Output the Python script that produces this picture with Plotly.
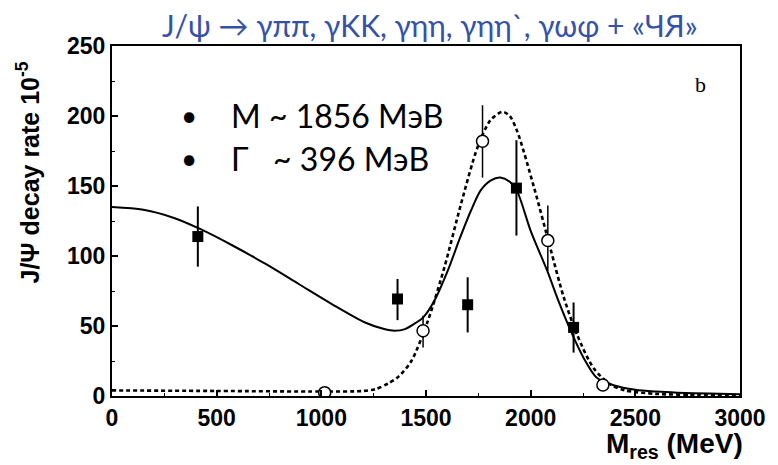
import plotly.graph_objects as go

# Filled squares (data set 1)
sq_x = [410, 1364, 1699, 1932, 2205]
sq_y = [113.9, 69.3, 65.2, 148.5, 49.0]
sq_err_plus = [21.5, 14.3, 19.6, 34.2, 17.8]
sq_err_minus = [21.5, 15.1, 19.8, 33.9, 18.0]

# Open circles (data set 2)
ci_x = [1016, 1486, 1770, 2082, 2345]
ci_y = [2.4, 46.6, 182.0, 111.0, 7.9]
ci_err_plus = [0, 10.7, 25.7, 25.0, 0]
ci_err_minus = [0, 12.0, 26.0, 21.5, 0]

# Solid fit curve
fit1_x = [0, 150, 300, 418, 576, 734, 892, 1050, 1209, 1300, 1350, 1400, 1454, 1486,
          1540, 1604, 1660, 1715, 1762, 1810, 1855, 1900, 1936, 2000, 2079, 2135,
          2190, 2250, 2316, 2400, 2500, 2600, 2700, 2850, 3000]
fit1_y = [135, 133, 127, 119.5, 107.5, 94.3, 80, 65.7, 52.5, 47.8, 46.6, 47.8, 52.5, 56,
          68, 89.5, 112, 132.5, 147, 154, 156, 153, 146, 118, 89.5, 67,
          47, 28, 13, 7.5, 4.5, 3.2, 2.4, 1.7, 1.2]

# Dotted fit curve
fit2_x = [0, 500, 1000, 1200, 1260, 1320, 1370, 1430, 1509, 1588, 1667, 1747, 1808,
          1865, 1900, 1936, 2016, 2095, 2157, 2221, 2300, 2379, 2450, 2600, 2800, 3000]
fit2_y = [4, 3.6, 3.2, 3.6, 5, 9, 14, 25, 53.7, 92, 137, 178, 197,
          203, 200, 189, 149, 105, 71, 44, 20, 8.4, 4, 1.5, 0.8, 0.5]

x_ticks = [0, 500, 1000, 1500, 2000, 2500, 3000]
y_ticks = [0, 50, 100, 150, 200, 250]

title_text = "J/ψ → γππ, γKK, γηη, γηη`, γωφ + «ЧЯ»"
y_title = "J/Ψ decay rate 10<sup>-5</sup>"
x_title = "M<sub>res</sub> (MeV)"
legend_lines = ["M ~ 1856 МэВ", "Γ\u00a0\u00a0\u00a0~ 396 МэВ"]

fig = go.Figure()
fig.add_trace(go.Scatter(x=fit1_x, y=fit1_y, mode="lines", line=dict(color="black", width=2, shape="spline", smoothing=0.8),
                         hoverinfo="skip", showlegend=False))
fig.add_trace(go.Scatter(x=fit2_x, y=fit2_y, mode="lines", line=dict(color="black", width=2.6, dash="4px,3px", shape="spline", smoothing=0.8),
                         hoverinfo="skip", showlegend=False))
fig.add_trace(go.Scatter(x=sq_x, y=sq_y, mode="markers",
                         marker=dict(symbol="square", size=11, color="black"),
                         error_y=dict(type="data", array=sq_err_plus, arrayminus=sq_err_minus, color="black", thickness=2, width=0),
                         showlegend=False))
fig.add_trace(go.Scatter(x=ci_x, y=ci_y, mode="markers",
                         marker=dict(symbol="circle", size=12, color="white", line=dict(color="black", width=1.5)),
                         error_y=dict(type="data", array=ci_err_plus, arrayminus=ci_err_minus, color="black", thickness=1.5, width=0),
                         showlegend=False))

axis_font = dict(family="Liberation Sans", size=23, color="black", weight="bold")
fig.update_xaxes(range=[0, 3000], tickvals=x_ticks, ticktext=[str(v) for v in x_ticks],
                 ticks="inside", ticklen=6, tickwidth=1.5, tickcolor="black",
                 minor=dict(dtick=250, ticks="inside", ticklen=3, tickcolor="black", tickwidth=1),
                 showline=True, linecolor="black", linewidth=2, mirror=True,
                 showgrid=False, zeroline=False, tickfont=axis_font)
fig.update_yaxes(range=[0, 250], tickvals=y_ticks, ticktext=[str(v) for v in y_ticks],
                 ticks="inside", ticklen=6, tickwidth=1.5, tickcolor="black",
                 minor=dict(dtick=25, ticks="inside", ticklen=3, tickcolor="black", tickwidth=1),
                 showline=True, linecolor="black", linewidth=2, mirror=True,
                 showgrid=False, zeroline=False, tickfont=axis_font)

annotations = [
    dict(text=title_text, x=0.507, y=1.06, xref="paper", yref="paper", showarrow=False,
         font=dict(family="Lato", size=30, color="#3552a8"), xanchor="center", yanchor="middle"),
    dict(text=y_title, x=-0.133, y=0.64, xref="paper", yref="paper", showarrow=False, textangle=-90,
         font=dict(family="Liberation Sans", size=25, color="black", weight="bold"), xanchor="center", yanchor="middle"),
    dict(text=x_title, x=1.008, y=-0.196, xref="paper", yref="paper", showarrow=False,
         font=dict(family="Liberation Sans", size=28, color="black", weight="bold"), xanchor="right", yanchor="bottom"),
    dict(text="b", x=0.937, y=0.89, xref="paper", yref="paper", showarrow=False,
         font=dict(family="Liberation Serif", size=22, color="black"), xanchor="center", yanchor="middle"),
]
for i, line in enumerate(legend_lines):
    yp = (396 - (115 + 43 * i)) / 350
    annotations.append(dict(text="•", x=(190 - 112) / 633, y=yp, xref="paper", yref="paper", showarrow=False,
                            font=dict(family="Lato", size=28, color="black"), xanchor="center", yanchor="middle"))
    annotations.append(dict(text=line, x=(230 - 112) / 633, y=yp, xref="paper", yref="paper", showarrow=False,
                            font=dict(family="Lato", size=32, color="black"), xanchor="left", yanchor="middle"))

# body margin of the page is 8px, so the figure is offset by 8px
fig.update_layout(width=770, height=457, margin=dict(l=104, r=33, t=38, b=69),
                  paper_bgcolor="white", plot_bgcolor="white", annotations=annotations)

fig.write_html("out.html")
